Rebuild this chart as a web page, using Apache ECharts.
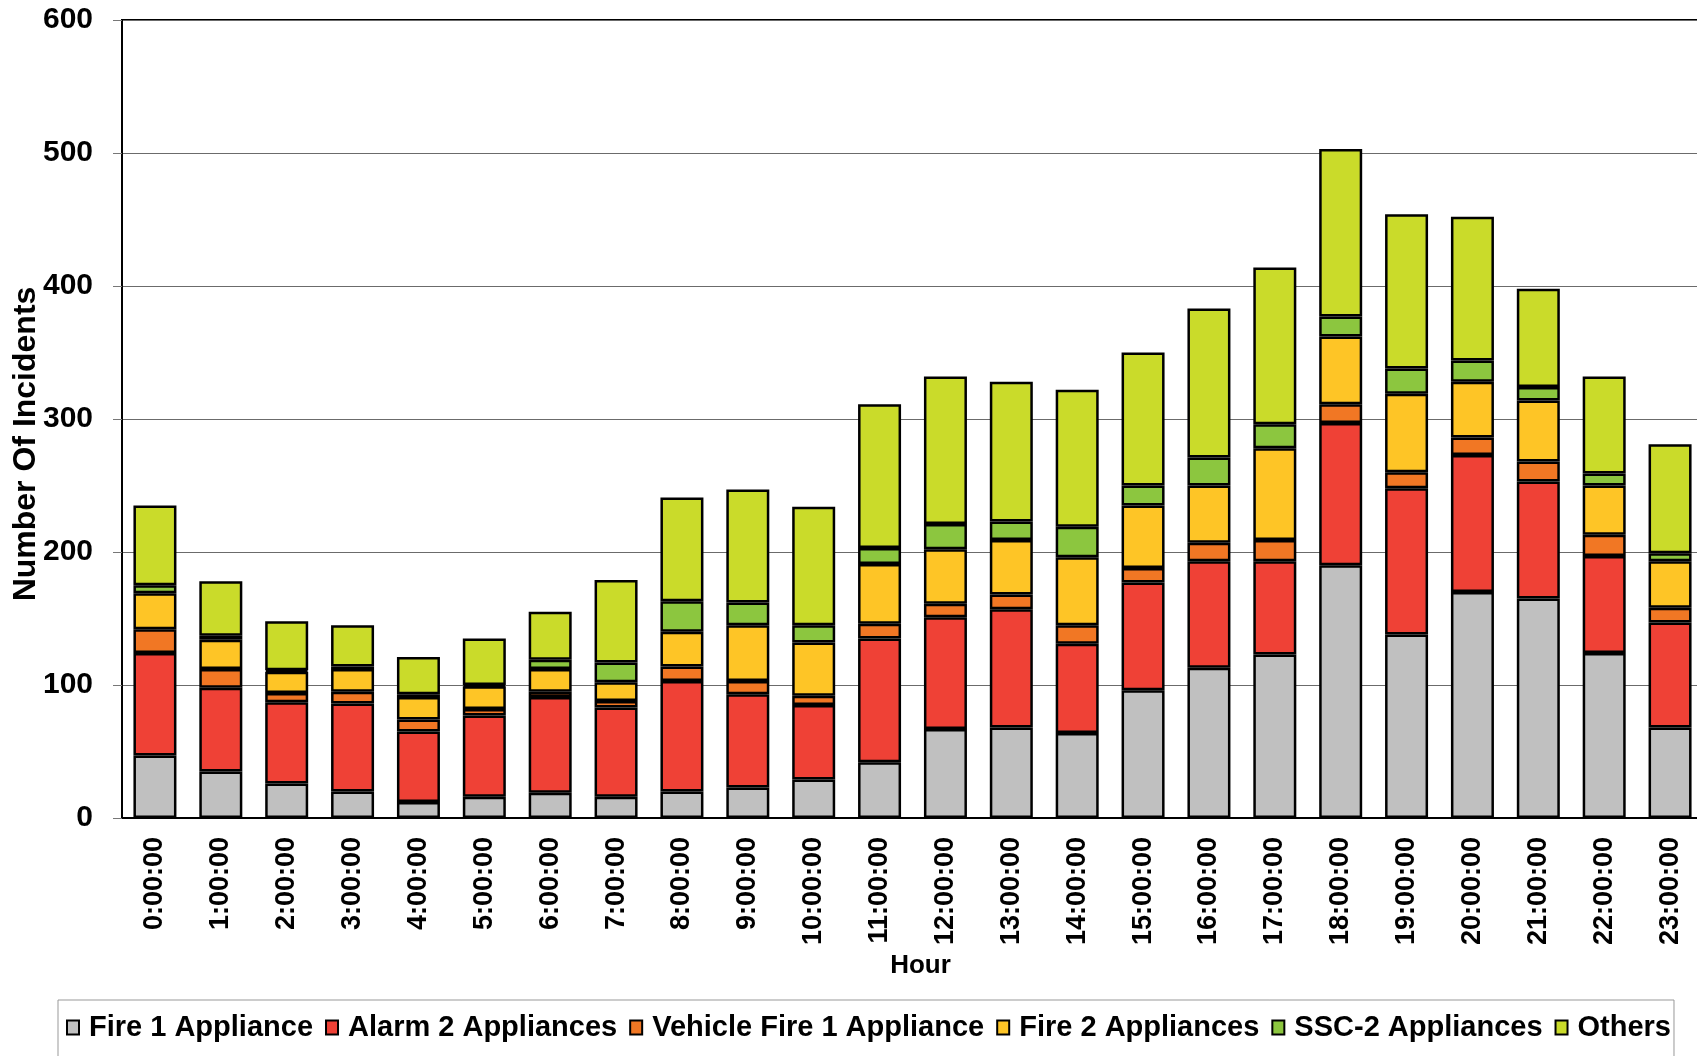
<!DOCTYPE html>
<html>
<head>
<meta charset="utf-8">
<script src="https://cdn.jsdelivr.net/npm/echarts@6/dist/echarts.min.js"></script>
<style>
  html, body { margin: 0; padding: 0; background: #fff; }
  #chart { width: 1697px; height: 1056px; }
</style>
</head>
<body>
<div id="chart"></div>
<script>
// categories and values
const hours = ['0:00:00', '1:00:00', '2:00:00', '3:00:00', '4:00:00', '5:00:00', '6:00:00', '7:00:00',
  '8:00:00', '9:00:00', '10:00:00', '11:00:00', '12:00:00', '13:00:00', '14:00:00', '15:00:00',
  '16:00:00', '17:00:00', '18:00:00', '19:00:00', '20:00:00', '21:00:00', '22:00:00', '23:00:00'];
const fire1 = [47, 35, 26, 20, 12, 16, 19, 16, 20, 23, 29, 42, 67, 68, 64, 96, 113, 123, 190, 138, 170, 165, 124, 68];
const alarm2 = [77, 63, 61, 66, 53, 61, 72, 67, 83, 70, 56, 93, 84, 89, 67, 81, 80, 70, 107, 110, 103, 88, 73, 79];
const vehicle1 = [18, 14, 7, 9, 9, 5, 4, 5, 11, 10, 7, 11, 10, 11, 14, 11, 14, 16, 14, 12, 13, 15, 16, 11];
const fire2 = [27, 22, 16, 17, 17, 17, 17, 14, 26, 42, 40, 45, 41, 41, 51, 47, 43, 69, 51, 59, 42, 46, 37, 35];
const ssc2 = [6, 3, 1, 2, 2, 1, 7, 15, 23, 17, 13, 12, 19, 14, 23, 15, 21, 18, 15, 19, 16, 10, 9, 6];
const others = [60, 41, 37, 31, 28, 35, 36, 62, 78, 85, 89, 108, 111, 105, 103, 100, 112, 118, 126, 116, 108, 74, 73, 82];

const seriesNames = ['Fire 1 Appliance', 'Alarm 2 Appliances', 'Vehicle Fire 1 Appliance',
  'Fire 2 Appliances', 'SSC-2 Appliances', 'Others'];
const seriesData = [fire1, alarm2, vehicle1, fire2, ssc2, others];
const colors = ['#C0C0C0', '#EF4136', '#F17724', '#FEC526', '#8CC63F', '#CADB2A'];

const FONT = "'Liberation Sans', Arial, sans-serif";

let chart = echarts.init(document.getElementById('chart'));

let option = {
  animation: false,
  textStyle: { fontFamily: FONT },
  grid: {
    left: 122,
    top: 20,
    width: 1581,
    height: 798,
    outerBoundsMode: 'none',
    show: true,
    borderColor: '#000',
    borderWidth: 2,
  },
  legend: {
    data: seriesNames,
    left: 58,
    top: 1000,
    padding: [13, 3, 40, 8],
    borderColor: '#999',
    borderWidth: 1,
    itemWidth: 12,
    itemHeight: 14,
    itemGap: 12,
    icon: 'rect',
    textStyle: {
      fontFamily: FONT,
      fontSize: 29,
      fontWeight: 'bold',
      color: '#000',
      padding: [0, 0, 0, 5],
    },
  },
  xAxis: {
    type: 'category',
    data: hours,
    name: 'Hour',
    nameLocation: 'middle',
    nameGap: 135,
    nameMoveOverlap: false,
    nameTextStyle: { fontSize: 26, fontWeight: 'bold', color: '#000', padding: [0, 0, 0, 16] },
    axisLine: { lineStyle: { color: '#000', width: 2 } },
    axisTick: { alignWithLabel: false, length: 8, lineStyle: { color: '#999', width: 1 } },
    axisLabel: {
      interval: 0,
      rotate: 90,
      margin: 19,
      fontSize: 27,
      fontWeight: 'bold',
      color: '#000',
    },
  },
  yAxis: {
    type: 'value',
    min: 0,
    max: 600,
    interval: 100,
    name: 'Number Of Incidents',
    nameLocation: 'middle',
    nameGap: 80,
    nameMoveOverlap: false,
    nameTextStyle: { fontSize: 32, fontWeight: 'bold', color: '#000', padding: [0, 50, 0, 0] },
    axisLine: { show: true, lineStyle: { color: '#000', width: 2 } },
    axisTick: { show: true, length: 9, lineStyle: { color: '#777', width: 1 } },
    axisLabel: { margin: 29, fontSize: 30, fontWeight: 'bold', color: '#000' },
    splitLine: { lineStyle: { color: '#6b6b6b', width: 1 } },
  },
  series: [],
};

seriesNames.forEach((name, i) => {
  option.series.push({
    name: name,
    type: 'bar',
    stack: 'total',
    barWidth: 43,
    data: seriesData[i],
    itemStyle: { color: colors[i], borderColor: '#000', borderWidth: 2.5 },
  });
});

chart.setOption(option);
</script>
</body>
</html>
